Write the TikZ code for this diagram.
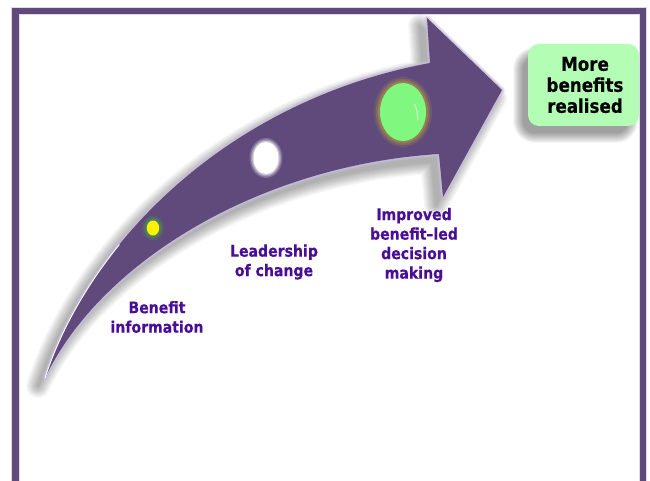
\documentclass[tikz,border=0pt]{standalone}
\usepackage{fontspec}
\setmainfont{DejaVu Sans}[FakeStretch=0.88,BoldFeatures={FakeBold=0.35}]
\definecolor{framepurple}{HTML}{5F4A7B}
\definecolor{glowlav}{HTML}{C9BEDC}
\definecolor{labelpurple}{HTML}{4A0E96}
\definecolor{boxgreen}{HTML}{B4FDB4}
\definecolor{ballgreen}{HTML}{80F880}
\definecolor{ringbrown}{HTML}{A8904A}
\tikzset{
  x=1pt,y=-1pt,
  arrowshape/.style={insert path={(45,378) .. controls (90,240) and (230,100) .. (430,63)
     -- (427,18) -- (502,90) -- (443,197) -- (439,154)
     .. controls (260,165) and (100,262) .. cycle}},
  boxshape/.style={rounded corners=11pt},
  lab/.style={font=\bfseries\fontsize{16}{19.5}\selectfont,text=labelpurple,align=center,inner sep=0pt},
  res/.style={font=\bfseries\fontsize{19}{21}\selectfont,text=black,align=center,inner sep=0pt},
  frameline/.style={fill=framepurple,draw=none},
}
\begin{document}
\begin{tikzpicture}
\useasboundingbox (0,0) rectangle (650,481);
\fill[white] (0,0) rectangle (650,481);
% frame
\fill[glowlav!60!white] (11,7) rectangle (647,15.5);
\fill[glowlav!60!white] (11,7) rectangle (19.5,481);
\fill[glowlav!60!white] (639,7) rectangle (647,481);
\fill[frameline] (12,8) rectangle (646,14.5);
\fill[frameline] (12,8) rectangle (18.5,481);
\fill[frameline] (640,8) rectangle (646,481);
% arrow shadow
\begin{scope}[shift={(-7,8)}]
  \foreach \w in {24,22,...,2}{
    \begin{scope}[transparency group,opacity=0.028]
      \fill[black,draw=black,line width=\w pt,line join=round,arrowshape];
    \end{scope}
  }
\end{scope}
% arrow
\foreach \w/\o in {6/0.25,4/0.4,2.5/0.6}{
  \draw[glowlav,opacity=\o,line width=\w pt,line join=round,arrowshape];
}
\fill[framepurple,arrowshape];
\draw[white,line width=0.9pt,line cap=round] (45,378) .. controls (59.85,332.5) and (85.05,286.8) .. (119.3,244.7);
% circles
\foreach \a/\o in {5/0.12,3.5/0.18,2/0.25}{
  \fill[green!50!gray,opacity=\o] (153,228) ellipse ({6+\a} and {7.5+\a});
}
\fill[yellow] (153,228) ellipse (6.2 and 7.5);
\foreach \a/\o in {4/0.2,2.5/0.3,1.2/0.45}{
  \fill[white,opacity=\o] (266,158) ellipse ({12.5+\a} and {16+\a});
}
\fill[white] (266,158) ellipse (12.5 and 16);
\foreach \a/\o in {6/0.2,4/0.35,2/0.55}{
  \fill[ringbrown,opacity=\o] (403,112) ellipse ({23+\a} and {29+\a});
}
\fill[ballgreen] (403,112) ellipse (23 and 29);
\draw[white,opacity=0.6,line width=1pt] (418,120) arc (-5:-40:14 and 28);
% box shadow
\begin{scope}[shift={(-8,10)}]
  \foreach \w in {22,20,...,2}{
    \begin{scope}[transparency group,opacity=0.04]
      \fill[black,draw=black,line width=\w pt,line join=round,boxshape] (532,48) rectangle (635,122);
    \end{scope}
  }
\end{scope}
\fill[boxgreen,boxshape] (528,44) rectangle (639,126);
% labels
\node[res] (more) at (585,85) {More\\benefits\\realised};
\node[lab] (info) at (157,317) {Benefit\\information};
\node[lab] (lead) at (274,262) {Leadership\\of change};
\node[lab] (impr) at (414,245) {Improved\\benefit–led\\decision\\making};
\end{tikzpicture}
\end{document}
